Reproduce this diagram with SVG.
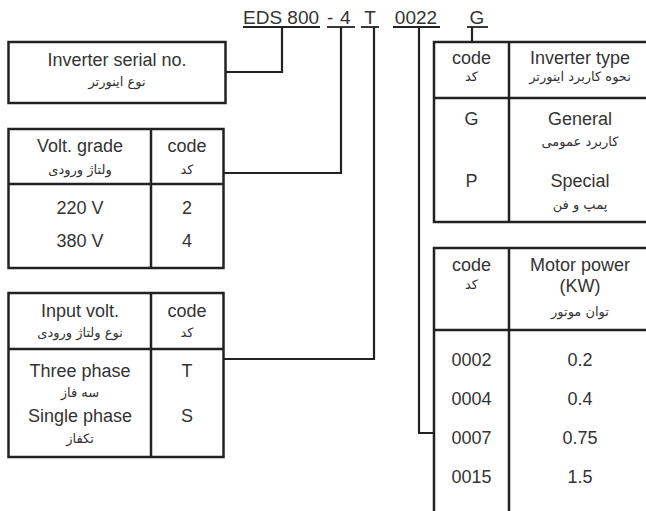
<svg xmlns="http://www.w3.org/2000/svg" width="646" height="511" viewBox="0 0 646 511">
<style>
.bx{fill:none;stroke:#222;stroke-width:2.5}
.ln{fill:none;stroke:#222;stroke-width:2.5}
.cn{fill:none;stroke:#222;stroke-width:2.2}
.en{font-family:"Liberation Sans",Arial,sans-serif;font-size:18px;fill:#333;text-anchor:middle}
.fa{font-family:"DejaVu Sans","Noto Sans",sans-serif;font-size:13px;fill:#333;text-anchor:middle}
.hd{font-family:"Liberation Sans",Arial,sans-serif;font-size:19px;fill:#333}
</style>
<rect width="646" height="511" fill="#fff"/>
<g id="code-header">
<text class="hd" x="243" y="24">EDS 800</text>
<text class="hd" x="327" y="24">-</text>
<text class="hd" x="340" y="24">4</text>
<text class="hd" x="370" y="24" text-anchor="middle">T</text>
<text class="hd" x="416" y="24" text-anchor="middle">0022</text>
<text class="hd" x="477" y="24" text-anchor="middle">G</text>
<g stroke="#222" stroke-width="1.8">
<line x1="243" y1="27" x2="320" y2="27"/>
<line x1="327" y1="27" x2="355" y2="27"/>
<line x1="361" y1="27" x2="379" y2="27"/>
<line x1="393" y1="27" x2="440" y2="27"/>
<line x1="467" y1="27" x2="488" y2="27"/>
</g>
</g>
<g id="connectors">
<polyline class="cn" points="282,27 282,72 226,72"/>
<polyline class="cn" points="341,27 341,173 224,173"/>
<polyline class="cn" points="374,27 374,359 224,359"/>
<polyline class="cn" points="419,27 419,433 434,433"/>
<polyline class="cn" points="472,27 472,42"/>
</g>
<g id="serial-box">
<rect class="bx" x="8.5" y="42" width="217" height="61"/>
<text class="en" x="117" y="66">Inverter serial no.</text>
<text class="fa" x="117" y="86">نوع اینورتر</text>
</g>
<g id="volt-grade">
<rect class="bx" x="8.5" y="129" width="215" height="139"/>
<line class="ln" x1="151" y1="129" x2="151" y2="268"/>
<line class="ln" x1="8.5" y1="184" x2="223.5" y2="184"/>
<text class="en" x="80" y="152">Volt. grade</text>
<text class="fa" x="80" y="174">ولتاژ ورودی</text>
<text class="en" x="187" y="152">code</text>
<text class="fa" x="187" y="174">کد</text>
<text class="en" x="80" y="214">220 V</text>
<text class="en" x="187" y="214">2</text>
<text class="en" x="80" y="247">380 V</text>
<text class="en" x="187" y="247">4</text>
</g>
<g id="input-volt">
<rect class="bx" x="8.5" y="293" width="215" height="164"/>
<line class="ln" x1="151" y1="293" x2="151" y2="457"/>
<line class="ln" x1="8.5" y1="349" x2="223.5" y2="349"/>
<text class="en" x="80" y="317">Input volt.</text>
<text class="fa" x="80" y="337">نوع ولتاژ ورودی</text>
<text class="en" x="187" y="317">code</text>
<text class="fa" x="187" y="337">کد</text>
<text class="en" x="80" y="377">Three phase</text>
<text class="fa" x="80" y="397">سه فاز</text>
<text class="en" x="187" y="377">T</text>
<text class="en" x="80" y="422">Single phase</text>
<text class="fa" x="80" y="443">تکفاز</text>
<text class="en" x="187" y="422">S</text>
</g>
<g id="inverter-type">
<rect class="bx" x="434" y="42" width="220" height="180"/>
<line class="ln" x1="509" y1="42" x2="509" y2="222"/>
<line class="ln" x1="434" y1="98" x2="654" y2="98"/>
<text class="en" x="471.5" y="64">code</text>
<text class="fa" x="471.5" y="81">کد</text>
<text class="en" x="580" y="64">Inverter type</text>
<text class="fa" x="580" y="81">نحوه کاربرد اینورتر</text>
<text class="en" x="471.5" y="125">G</text>
<text class="en" x="580" y="125">General</text>
<text class="fa" x="580" y="146">کاربرد عمومی</text>
<text class="en" x="471.5" y="187">P</text>
<text class="en" x="580" y="187">Special</text>
<text class="fa" x="580" y="209">پمپ و فن</text>
</g>
<g id="motor-power">
<polyline class="ln" points="434,515 434,248 654,248"/>
<line class="ln" x1="509" y1="248" x2="509" y2="515"/>
<line class="ln" x1="434" y1="330" x2="654" y2="330"/>
<text class="en" x="471.5" y="271">code</text>
<text class="fa" x="471.5" y="289">کد</text>
<text class="en" x="580" y="271">Motor power</text>
<text class="en" x="580" y="292">(KW)</text>
<text class="fa" x="580" y="316">توان موتور</text>
<text class="en" x="471.5" y="366">0002</text>
<text class="en" x="580" y="366">0.2</text>
<text class="en" x="471.5" y="405">0004</text>
<text class="en" x="580" y="405">0.4</text>
<text class="en" x="471.5" y="444">0007</text>
<text class="en" x="580" y="444">0.75</text>
<text class="en" x="471.5" y="483">0015</text>
<text class="en" x="580" y="483">1.5</text>
</g>
</svg>
